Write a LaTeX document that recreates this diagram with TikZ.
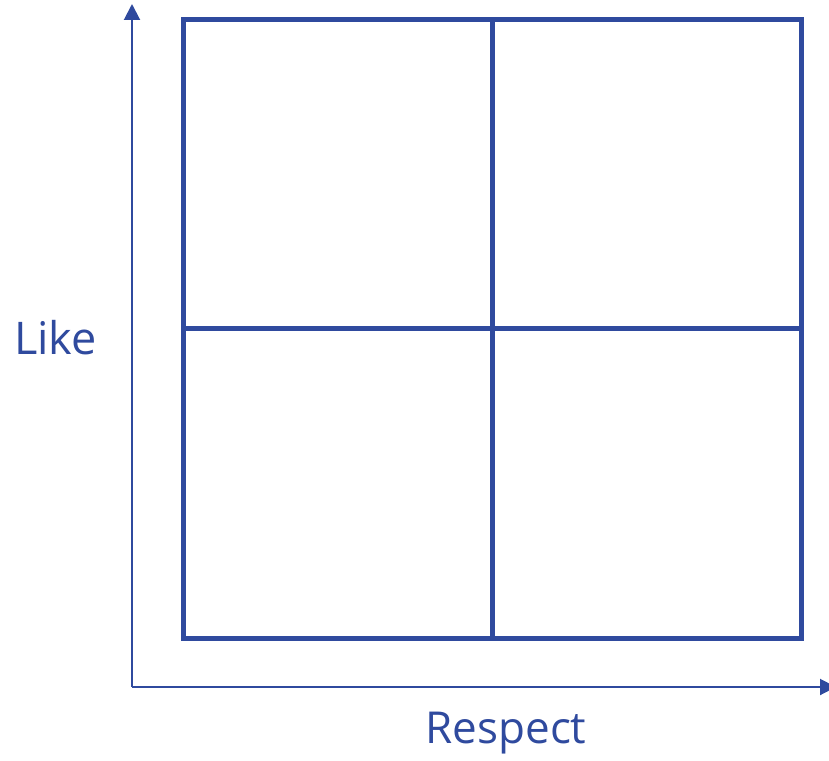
\documentclass[tikz,border=0pt]{standalone}
\usepackage{fontspec}
\setmainfont{Open Sans}
\usetikzlibrary{arrows.meta}
\definecolor{qblue}{RGB}{47,74,158}
\begin{document}
\begin{tikzpicture}[x=1pt,y=-1pt,
  gridline/.style={draw=qblue,line width=5pt},
  axisline/.style={draw=qblue,line width=2pt,-{Triangle[length=16pt,width=16pt]}},
  axislabel/.style={text=qblue,inner sep=0pt,anchor=base}]
\useasboundingbox (0,0) rectangle (829,760);
\coordinate (origin) at (132,687);
\coordinate (ytip) at (132,4);
\coordinate (xtip) at (836,687);
\draw[axisline] (origin) -- (ytip);
\draw[axisline] (origin) -- (xtip);
\draw[gridline] (183,20) rectangle (801,638);
\draw[gridline] (492,20) -- (492,638);
\draw[gridline] (183,328) -- (801,328);
\node[axislabel,font=\fontsize{45}{54}\selectfont] (like) at (55.5,354) {Like};
\node[axislabel,font=\fontsize{44}{52}\selectfont] (respect) at (506,743) {Respect};
\end{tikzpicture}
\end{document}
